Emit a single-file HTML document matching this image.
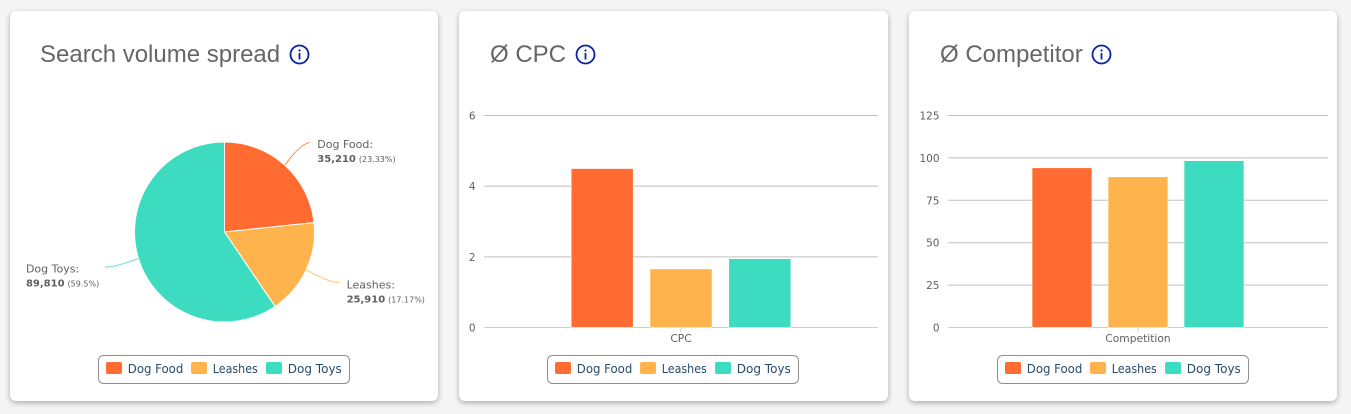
<!DOCTYPE html>
<html lang="en">
<head>
<meta charset="utf-8">
<title>Keyword charts</title>
<style>
html,body{margin:0;padding:0;width:1351px;height:414px;overflow:hidden;background:#f5f5f5;}
body{position:relative;font-family:"Liberation Sans",sans-serif;}
.card{position:absolute;top:11px;height:390px;background:#fff;border-radius:6px;box-shadow:0 2px 6px rgba(0,0,0,.3);}
.title{position:absolute;left:30px;top:30px;margin:0;font-size:24px;line-height:28px;font-weight:400;color:#666;white-space:nowrap;}
.info{position:absolute;top:32.5px;width:21px;height:21px;}
#charts{position:absolute;left:0;top:0;}
#charts text{font-family:"DejaVu Sans",sans-serif;}
</style>
</head>
<body>
<div class="card" style="left:10px;width:428px">
  <h2 class="title">Search volume spread</h2>
  <svg class="info" style="left:278.5px" viewBox="0 0 21 21"><circle cx="10.5" cy="10.5" r="9" fill="none" stroke="#0a22a5" stroke-width="1.8"/><circle cx="10.5" cy="6.5" r="1.1" fill="#0a22a5"/><rect x="9.6" y="9" width="1.8" height="6.5" fill="#0a22a5"/></svg>
</div>
<div class="card" style="left:459px;width:429px">
  <h2 class="title" style="left:31px">Ø CPC</h2>
  <svg class="info" style="left:115.5px" viewBox="0 0 21 21"><circle cx="10.5" cy="10.5" r="9" fill="none" stroke="#0a22a5" stroke-width="1.8"/><circle cx="10.5" cy="6.5" r="1.1" fill="#0a22a5"/><rect x="9.6" y="9" width="1.8" height="6.5" fill="#0a22a5"/></svg>
</div>
<div class="card" style="left:909px;width:428px">
  <h2 class="title" style="left:31px">Ø Competitor</h2>
  <svg class="info" style="left:181.5px" viewBox="0 0 21 21"><circle cx="10.5" cy="10.5" r="9" fill="none" stroke="#0a22a5" stroke-width="1.8"/><circle cx="10.5" cy="6.5" r="1.1" fill="#0a22a5"/><rect x="9.6" y="9" width="1.8" height="6.5" fill="#0a22a5"/></svg>
</div>
<svg id="charts" width="1351" height="414" viewBox="0 0 1351 414"></svg>
<script>
var categories = ['Dog Food', 'Leashes', 'Dog Toys'];
var volumeValues = [35210, 25910, 89810];
var cpcValues = [4.49, 1.65, 1.94];
var competitorValues = [94, 88.7, 98.2];
var cpcTicks = [0, 2, 4, 6];
var competitorTicks = [0, 25, 50, 75, 100, 125];
var cpcCategory = 'CPC';
var competitorCategory = 'Competition';
var colors = ['#ff6b30', '#ffb34d', '#3ddbc0'];

var NS = 'http://www.w3.org/2000/svg';
var root = document.getElementById('charts');
var PLOT_TOP = 115.5, PLOT_BOTTOM = 327.5;

function mk(tag, attrs, parent) {
  var el = document.createElementNS(NS, tag);
  for (var k in attrs) el.setAttribute(k, attrs[k]);
  (parent || root).appendChild(el);
  return el;
}
function txt(content, x, y, size, fill, parent, weight, anchor) {
  var el = mk('text', {x: x, y: y, 'font-size': size, fill: fill, 'font-weight': weight || 400, 'text-anchor': anchor || 'start'}, parent);
  el.textContent = content;
  return el;
}

function drawLegend(offset) {
  var box = mk('rect', {x: 98.5 + offset, y: 355.5, width: 251, height: 28, rx: 5, fill: '#fff', stroke: '#909090'});
  
  
  var swatchX = [106, 191, 266];
  var textWidth = [55.5, 45, 54];
  categories.forEach(function (name, i) {
    var sw = mk('rect', {x: swatchX[i] + offset, y: 362, width: 16, height: 12, rx: 2, fill: colors[i]});
    
    
    var t = txt(name, swatchX[i] + 21.8 + offset, 373, 12, '#274b6d');
    t.setAttribute('textLength', textWidth[i]);
    t.setAttribute('lengthAdjust', 'spacingAndGlyphs');
    
    
  });
}

function drawPie() {
  var cx = 224.5, cy = 232, r = 90, labelR = 123;
  var total = volumeValues.reduce(function (a, b) { return a + b; }, 0);
  var acc = 0;
  volumeValues.forEach(function (v, i) {
    var a0 = acc / total * 2 * Math.PI;
    acc += v;
    var a1 = acc / total * 2 * Math.PI;
    var large = (a1 - a0) > Math.PI ? 1 : 0;
    var d = 'M' + cx + ' ' + cy +
      'L' + (cx + r * Math.sin(a0)) + ' ' + (cy - r * Math.cos(a0)) +
      'A' + r + ' ' + r + ' 0 ' + large + ' 1 ' + (cx + r * Math.sin(a1)) + ' ' + (cy - r * Math.cos(a1)) + 'Z';
    var slice = mk('path', {d: d, fill: colors[i], stroke: '#fff', 'stroke-width': 1});
    
    
  });
  acc = 0;
  volumeValues.forEach(function (v, i) {
    var mid = (acc + v / 2) / total * 2 * Math.PI;
    acc += v;
    var sx = Math.sin(mid), cyy = -Math.cos(mid);
    var right = sx >= 0;
    var ex = cx + labelR * sx;
    var ey = cy + labelR * cyy + (cyy < 0 && right ? 2 : -1);
    var tail = right ? ex + 3 : ex - 2;
    var conn = mk('path', {
      d: 'M' + (cx + r * sx) + ' ' + (cy + r * cyy) + 'Q' + (cx + (labelR - 8) * sx) + ' ' + (cy + (labelR - 3) * cyy) + ' ' + tail + ' ' + ey,
      fill: 'none', stroke: colors[i], 'stroke-width': 1, opacity: 0.8
    });
    
    
    var lx = right ? ex + 10.5 : ex - 81;
    var l1 = txt(categories[i] + ':', lx, ey + 5.5, 11, '#606060');
    
    
    var l2 = txt('', lx, ey + 19.5, 10, '#606060');
    
    
    var b = mk('tspan', {'font-weight': 700}, l2);
    b.textContent = v.toLocaleString('en-US');
    var p = mk('tspan', {'font-size': 8, dx: 3}, l2);
    p.textContent = '(' + parseFloat((v / total * 100).toFixed(2)) + '%)';
  });
}

function drawBars(values, ticks, categoryLabel, x0, x1, labelX) {
  var maxTick = ticks[ticks.length - 1];
  var plotW = x1 - x0;
  var center = (x0 + x1) / 2;
  var pitch = plotW * 0.2, barW = plotW * 0.156;
  function yScale(v) { return PLOT_BOTTOM - v / maxTick * (PLOT_BOTTOM - PLOT_TOP); }
  ticks.forEach(function (t) {
    var y = yScale(t);
    if (t !== 0) {
      var g = mk('line', {x1: x0, x2: x1, y1: y, y2: y, stroke: '#c0c0c0', 'stroke-width': 1});
      
      
    }
    var lab = txt(String(t), labelX, y + 4, 10.5, '#606060', null, 400, 'end');
    
    
  });
  var axis = mk('line', {x1: x0, x2: x1, y1: PLOT_BOTTOM, y2: PLOT_BOTTOM, stroke: '#c0d0e0', 'stroke-width': 1});
  
  
  var tick = mk('line', {x1: center, x2: center, y1: PLOT_BOTTOM, y2: PLOT_BOTTOM + 5, stroke: '#c0d0e0', 'stroke-width': 1});
  
  
  values.forEach(function (v, i) {
    var cxx = center + (i - 1) * pitch;
    var top = yScale(v);
    var bar = mk('rect', {x: cxx - barW / 2, y: top, width: barW, height: PLOT_BOTTOM - top - 0.5, fill: colors[i], stroke: '#fff', 'stroke-width': 1, 'paint-order': 'stroke'});
    
    
  });
  var cat = txt(categoryLabel, center, 342, 10.7, '#606060', null, 400, 'middle');
  
  
}

drawPie();
drawLegend(0);
drawBars(cpcValues, cpcTicks, cpcCategory, 484, 878, 475.5);
drawLegend(449);
drawBars(competitorValues, competitorTicks, competitorCategory, 948, 1328, 939.5);
drawLegend(899);
</script>
</body>
</html>
